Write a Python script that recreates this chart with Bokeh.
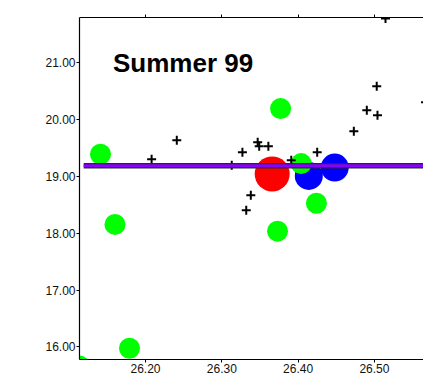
from bokeh.plotting import figure
from bokeh.models import Range1d, FixedTicker, PrintfTickFormatter, LinearAxis, Label
from bokeh.embed import file_html
from bokeh.resources import INLINE

# Station positions (longitude, latitude) grouped by marker type
cross_x = [26.208, 26.241, 26.313, 26.327, 26.347, 26.349, 26.361, 26.338, 26.332,
           26.391, 26.425, 26.473, 26.490, 26.504, 26.503, 26.5145, 26.567]
cross_y = [19.298, 19.632, 19.193, 19.421, 19.596, 19.526, 19.526, 18.667, 18.404,
           19.281, 19.421, 19.789, 20.158, 20.070, 20.579, 21.772, 20.298]

green_x = [26.141, 26.160, 26.179, 26.1135, 26.377, 26.424, 26.373, 26.404]
green_y = [19.386, 18.153, 15.977, 15.667, 20.188, 18.526, 18.035, 19.222]

blue_x = [26.414, 26.448]
blue_y = [19.005, 19.153]

red_x = [26.366]
red_y = [19.040]

# Horizontal reference level
level_x = [26.119, 26.60]
level_y = [19.184, 19.184]

x_ticks = [26.20, 26.30, 26.40, 26.50]
y_ticks = [16, 17, 18, 19, 20, 21]
title_text = "Summer 99"

p = figure(width=423, height=375, output_backend="svg", toolbar_location=None,
           x_range=Range1d(26.1135, 26.5643), y_range=Range1d(15.78, 21.789),
           x_axis_location="below", y_axis_location="left",
           min_border_left=79, min_border_top=17, min_border_right=0, min_border_bottom=0)
p.outline_line_color = None
p.grid.visible = False
p.background_fill_color = "white"
p.border_fill_color = "white"

for ax in (p.xaxis[0], p.yaxis[0]):
    ax.axis_line_color = "black"
    ax.axis_line_width = 1.2
    ax.major_tick_line_color = "black"
    ax.major_tick_out = 3
    ax.major_tick_in = 0
    ax.minor_tick_line_color = None
    ax.major_label_text_font = "Liberation Sans"
    ax.major_label_text_font_size = "12px"
    ax.major_label_text_color = "#111111"
    ax.major_label_standoff = 1

p.xaxis[0].ticker = FixedTicker(ticks=x_ticks)
p.xaxis[0].formatter = PrintfTickFormatter(format="%.2f")
p.yaxis[0].ticker = FixedTicker(ticks=y_ticks)
p.yaxis[0].formatter = PrintfTickFormatter(format="%.2f")

# Tick marks along the top edge, no labels there
top = LinearAxis(ticker=FixedTicker(ticks=x_ticks),
                 major_label_overrides={t: "" for t in x_ticks},
                 major_label_standoff=0, major_tick_out=3, major_tick_in=0,
                 minor_tick_line_color=None, axis_line_color="black", axis_line_width=1.2,
                 major_tick_line_color="black")
p.add_layout(top, "above")

# Bubbles
p.scatter(red_x, red_y, size=35, color="#ff0000", line_color=None)
p.scatter(blue_x, blue_y, size=28, color="#0000ff", line_color=None)
p.scatter(green_x, green_y, size=21, color="#00ff00", line_color=None)

# Stations
p.scatter(cross_x, cross_y, marker="cross", size=9, line_width=2, line_color="black")

# Reference level drawn as an outlined band
p.line(level_x, level_y, line_width=5.5, line_color="#2a2a2a")
p.line(level_x, level_y, line_width=3.2, line_color="#8800ff")

p.add_layout(Label(x=26.1574, y=20.982, text=title_text, text_font="Liberation Sans",
                   text_font_style="bold", text_font_size="26px", text_color="black",
                   text_baseline="alphabetic"))

open("out.html", "w").write(file_html(p, INLINE))
